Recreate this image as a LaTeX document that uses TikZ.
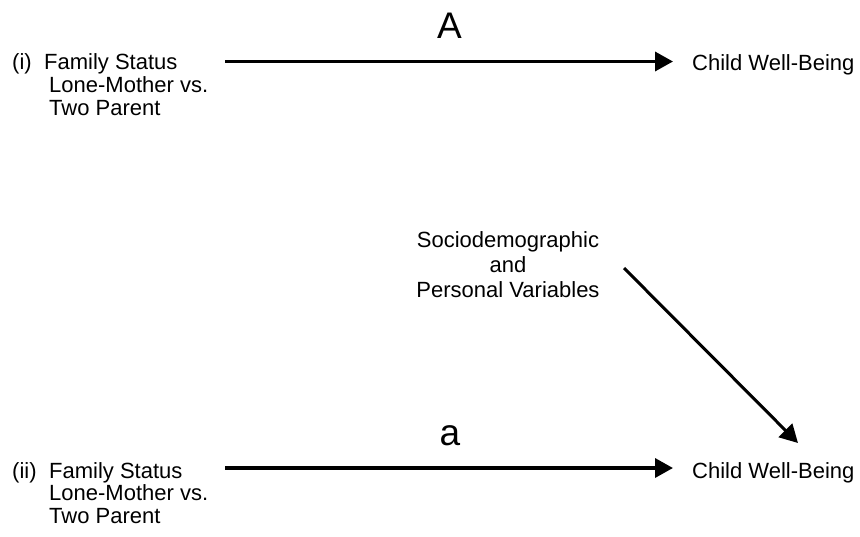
\documentclass[tikz,border=0pt]{standalone}
\usepackage{fontspec}
\setmainfont{Liberation Sans}
\usetikzlibrary{arrows.meta}
\tikzset{
  lbl/.style={inner sep=0pt, anchor=base west, font=\fontsize{22}{22.7}\selectfont},
  big/.style={inner sep=0pt, anchor=base, font=\fontsize{37}{37}\selectfont},
  arr/.style={line width=3.5pt, -{Triangle[length=18pt,width=19pt]}},
}
\begin{document}
\begin{tikzpicture}[x=1pt,y=-1pt]
\useasboundingbox[fill=white] (0,0) rectangle (860,536);
% panel (i)
\node[lbl] (n1) at (12,69.5) {(i)};
\node[lbl] (fs1) at (44,69.5) {Family Status};
\node[lbl] (lm1) at (49,92.5) {Lone-Mother vs.};
\node[lbl] (tp1) at (49,115) {Two Parent};
\node[lbl] (cw1) at (692,70) {Child Well-Being};
\node[big] (A) at (449.5,38) {A};
\coordinate (s1) at (225,61.5);
\coordinate (e1) at (673,61.5);
\draw[arr] (s1) -- (e1);
% panel (ii)
\node[lbl] (n2) at (12,478) {(ii)};
\node[lbl] (fs2) at (49,478) {Family Status};
\node[lbl] (lm2) at (49,500.5) {Lone-Mother vs.};
\node[lbl] (tp2) at (49,523) {Two Parent};
\node[lbl] (cw2) at (692,478) {Child Well-Being};
\node[big] (a) at (450,445) {a};
\node[lbl, anchor=base, align=center] (sd) at (508,247) {Sociodemographic};
\node[lbl, anchor=base] (and) at (508,272) {and};
\node[lbl, anchor=base] (pv) at (508,297) {Personal Variables};
\coordinate (s2) at (225,468);
\coordinate (e2) at (673,468);
\draw[arr] (s2) -- (e2);
\coordinate (s3) at (624,268);
\coordinate (e3) at (798,443);
\draw[arr, line width=3pt] (s3) -- (e3);
\end{tikzpicture}
\end{document}
